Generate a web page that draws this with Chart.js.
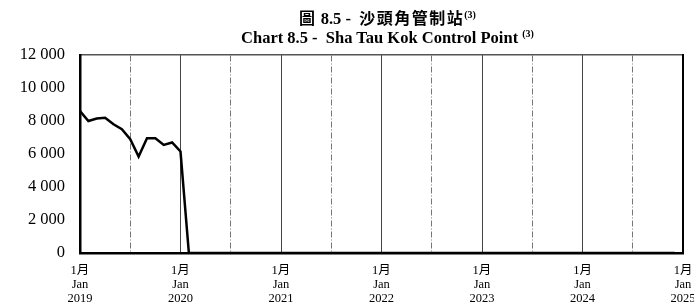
<!DOCTYPE html>
<html>
<head>
<meta charset="utf-8">
<script src="https://cdn.jsdelivr.net/npm/chart.js@4"></script>
<style>
  body { margin: 0; background: #fff; }
  #wrap { position: relative; width: 694px; height: 308px; }
  .ttl { position: absolute; left: 80px; width: 615px; text-align: center; font-weight: bold; color: #000; white-space: nowrap; }
  #ttlZh { top: 5px; font-family: "Noto Sans CJK TC", "Liberation Serif", serif; font-size: 16px; letter-spacing: 1.5px; }
  #ttlEn { top: 28px; font-family: "Liberation Serif", serif; font-size: 16.5px; }
  .num { font-family: "Liberation Serif", serif; font-size: 16.5px; letter-spacing: 0; }
  sup { font-family: "Liberation Serif", serif; font-size: 10px; vertical-align: 6px; line-height: 0; letter-spacing: 0; }
</style>
</head>
<body>
<div id="wrap">
  <canvas id="chart" width="694" height="308"></canvas>
  <div class="ttl" id="ttlZh">圖<span class="num"> 8.5 -&nbsp; </span>沙頭角管制站<sup>(3)</sup></div>
  <div class="ttl" id="ttlEn">Chart 8.5 -&nbsp; Sha Tau Kok Control Point <sup>(3)</sup></div>
</div>
<script>
// monthly passenger trips, Jan 2019 onwards
const startYear = 2019;
const months = [
  '2019-01','2019-02','2019-03','2019-04','2019-05','2019-06','2019-07','2019-08','2019-09','2019-10','2019-11','2019-12',
  '2020-01','2020-02','2020-03','2020-04','2020-05','2020-06','2020-07','2020-08','2020-09','2020-10','2020-11','2020-12',
  '2021-01','2021-02','2021-03','2021-04','2021-05','2021-06','2021-07','2021-08','2021-09','2021-10','2021-11','2021-12',
  '2022-01','2022-02','2022-03','2022-04','2022-05','2022-06','2022-07','2022-08','2022-09','2022-10','2022-11','2022-12',
  '2023-01','2023-02','2023-03','2023-04','2023-05','2023-06','2023-07','2023-08','2023-09','2023-10','2023-11','2023-12',
  '2024-01','2024-02','2024-03','2024-04','2024-05','2024-06','2024-07','2024-08','2024-09','2024-10','2024-11','2024-12'
];
const trips = [
  8600, 8000, 8150, 8200, 7800, 7500, 6900, 5850, 6950, 6950, 6550, 6700,
  6150, 0, 0, 0, 0, 0, 0, 0, 0, 0, 0, 0,
  0, 0, 0, 0, 0, 0, 0, 0, 0, 0, 0, 0,
  0, 0, 0, 0, 0, 0, 0, 0, 0, 0, 0, 0,
  0, 0, 0, 0, 0, 0, 0, 0, 0, 0, 0, 0,
  0, 0, 0, 0, 0, 0, 0, 0, 0, 0, 0, 0
];
const yearTicks = [0, 12, 24, 36, 48, 60, 72];
const midYearTicks = [6, 18, 30, 42, 54, 66];
const yMax = 12000;
const yStep = 2000;

const points = trips.map((v, i) => ({ x: i, y: v }));
const fmt = v => String(v).replace(/\B(?=(\d{3})+(?!\d))/g, ' ');
const serif = 'Liberation Serif';

new Chart(document.getElementById('chart'), {
  type: 'line',
  data: {
    datasets: [{
      data: points,
      borderColor: '#000',
      borderWidth: 2.5,
      pointRadius: 0,
      tension: 0,
      fill: false
    }]
  },
  options: {
    responsive: false,
    animation: false,
    layout: { padding: { top: 55, right: 11, left: 0, bottom: 0 } },
    plugins: { legend: { display: false }, title: { display: false }, tooltip: { enabled: false } },
    scales: {
      x: {
        type: 'linear',
        position: 'bottom',
        min: 0,
        max: 72,
        afterBuildTicks: s => { s.ticks = yearTicks.map(v => ({ value: v })); },
        afterFit: s => { s.paddingLeft = 0; s.paddingRight = 0; s.height = 55; },
        ticks: {
          padding: 11,
          color: '#000',
          font: { family: serif + ', Noto Sans CJK TC', size: 12.5, lineHeight: 1.12 },
          callback: v => ['1月', 'Jan', String(startYear + v / 12)]
        },
        grid: { color: '#444', lineWidth: 1, drawTicks: false },
        border: { color: '#000', width: 2.5 }
      },
      x2: {
        type: 'linear',
        position: 'top',
        min: 0,
        max: 72,
        afterBuildTicks: s => { s.ticks = midYearTicks.map(v => ({ value: v })); },
        afterFit: s => { s.paddingLeft = 0; s.paddingRight = 0; s.height = 0; },
        ticks: { display: false },
        grid: { color: '#777', lineWidth: 1, drawTicks: false },
        border: { color: '#555', width: 1.5, dash: [6, 2, 1, 2] }
      },
      y: {
        min: 0,
        max: yMax,
        afterFit: s => { s.width = 80; },
        ticks: {
          stepSize: yStep,
          padding: 7,
          color: '#000',
          font: { family: serif, size: 16.5 },
          callback: v => fmt(v)
        },
        grid: { display: false },
        border: { color: '#000', width: 2.5 }
      },
      y2: {
        position: 'right',
        min: 0,
        max: yMax,
        afterFit: s => { s.width = 0; },
        ticks: { display: false },
        grid: { display: false },
        border: { color: '#000', width: 2 }
      }
    }
  }
});
</script>
</body>
</html>
